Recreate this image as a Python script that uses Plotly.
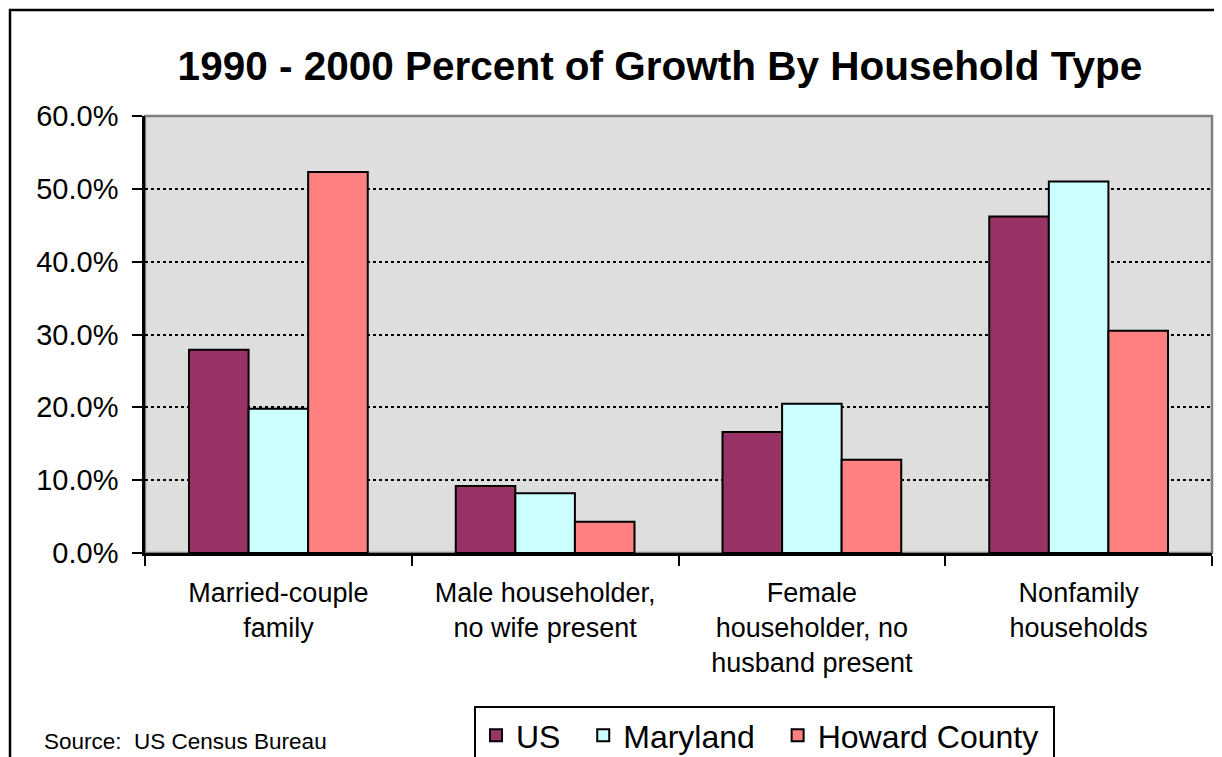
"""1990 - 2000 percent of growth by household type - grouped bars."""

import plotly.graph_objects as go

CATEGORIES = [
    "Married-couple<br>family",
    "Male householder,<br>no wife present",
    "Female<br>householder, no<br>husband present",
    "Nonfamily<br>households",
]
US = [27.9, 9.2, 16.6, 46.2]
MARYLAND = [19.8, 8.2, 20.5, 51.0]
HOWARD = [52.3, 4.3, 12.8, 30.5]

SERIES = [
    ("US", US, "#993366"),
    ("Maryland", MARYLAND, "#CCFFFF"),
    ("Howard County", HOWARD, "#FF8080"),
]

FONT = "Liberation Sans, Arial, sans-serif"
NBSP = "\u00a0"

# page has an 8px body margin, so the figure is drawn 8px in and 8px down
W, H = 1214, 749
OFF = 8


def px_x(x):
    return (x - 145) / 1067


def px_y(y):
    return (553 - y) / 437


fig = go.Figure()
for i, (name, vals, color) in enumerate(SERIES):
    pad = NBSP * (1 if i == len(SERIES) - 1 else 2)
    fig.add_trace(
        go.Bar(
            x=CATEGORIES,
            y=vals,
            name=name + pad,
            marker=dict(color=color, line=dict(color="black", width=2)),
        )
    )

# plot area on page: x 145..1212, y 116..553
fig.update_layout(
    width=W,
    height=H,
    margin=dict(l=145 - OFF, r=W - (1212 - OFF), t=116 - OFF, b=H - (553 - OFF), autoexpand=False),
    paper_bgcolor="white",
    plot_bgcolor="#DEDEDE",
    barmode="group",
    bargap=0.33,
    bargroupgap=0,
    font=dict(family=FONT, color="black"),
    title=dict(
        text="<b>1990 - 2000 Percent of Growth By Household Type</b>",
        x=(660 - OFF) / W,
        xanchor="center",
        y=1 - (66 - OFF) / H,
        yanchor="middle",
        font=dict(size=40.5, family=FONT, color="black"),
    ),
    showlegend=True,
    legend=dict(
        orientation="h",
        x=px_x(474),
        xanchor="left",
        y=px_y(706),
        yanchor="top",
        bordercolor="black",
        borderwidth=2,
        bgcolor="white",
        font=dict(size=32, family=FONT),
    ),
)

fig.update_yaxes(
    range=[0, 60],
    dtick=10,
    tickformat=".1f",
    ticksuffix="%",
    tickfont=dict(size=29),
    ticklabelstandoff=8,
    showgrid=True,
    gridcolor="black",
    griddash="dot",
    gridwidth=1.5,
    showline=True,
    linecolor="black",
    linewidth=2.5,
    ticks="outside",
    ticklen=10,
    tickwidth=2,
    tickcolor="black",
    zeroline=False,
)
fig.update_xaxes(
    tickfont=dict(size=27),
    ticklabelstandoff=14,
    showline=True,
    linecolor="black",
    linewidth=2.5,
    ticks="outside",
    tickson="boundaries",
    ticklen=10,
    tickwidth=2,
    tickcolor="black",
    showgrid=False,
)

# gray top/right plot border
fig.add_shape(
    type="rect", xref="paper", yref="paper", x0=0, x1=1, y0=0, y1=1,
    line=dict(color="#808080", width=2.5), layer="below",
)
# outer chart border (cut at right/bottom edges)
fig.add_shape(
    type="rect", xref="paper", yref="paper",
    x0=px_x(10), x1=px_x(1240),
    y0=px_y(790), y1=px_y(10),
    line=dict(color="black", width=2.5),
)

fig.add_annotation(
    text="Source:  US Census Bureau",
    xref="paper", yref="paper",
    x=px_x(42), xanchor="left",
    y=px_y(741), yanchor="middle",
    showarrow=False,
    font=dict(size=22.5, family=FONT, color="black"),
)

fig.write_html("out.html")
